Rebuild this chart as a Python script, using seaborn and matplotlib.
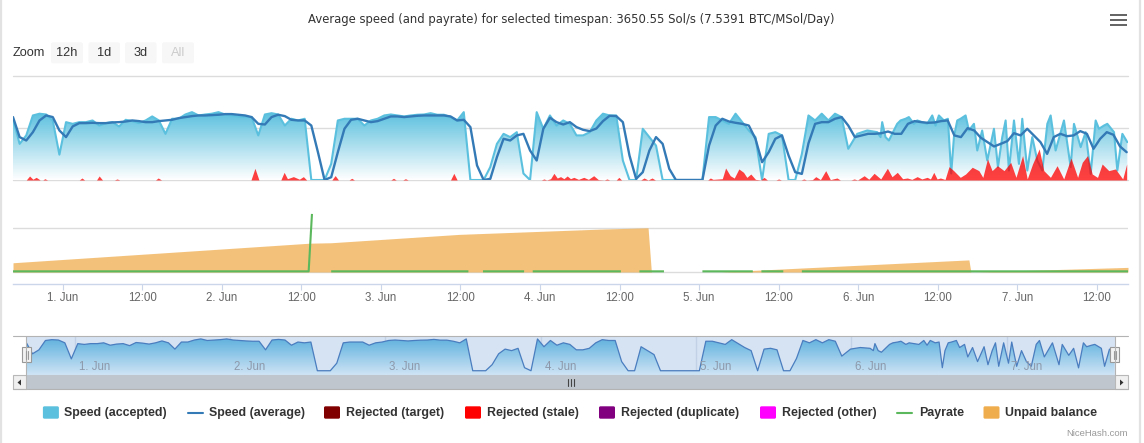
import numpy as np
import pandas as pd
import matplotlib
matplotlib.use("Agg")
import matplotlib.pyplot as plt
import matplotlib.dates as mdates
import matplotlib.transforms as mtransforms
from matplotlib.patches import Rectangle, FancyBboxPatch, Polygon
from matplotlib.colors import LinearSegmentedColormap
import seaborn as sns

sns.set_theme(style="white")
plt.rcParams['font.family'] = ['Liberation Sans', 'DejaVu Sans']

W, H, DPI = 1144, 443, 100

# ---------------- data ----------------
START = "2017-05-31 16:30"
SPAN_HOURS = 168.2

TITLE = "Average speed (and payrate) for selected timespan: 3650.55 Sol/s (7.5391 BTC/MSol/Day)"
ZOOM_BUTTONS = ["12h", "1d", "3d", "All"]
LEGEND_LABELS = ["Speed (accepted)", "Speed (average)", "Rejected (target)", "Rejected (stale)",
                 "Rejected (duplicate)", "Rejected (other)", "Payrate", "Unpaid balance"]
LEGEND_COLORS = ["#5bc0de", "#337ab7", "#800000", "#ff0000", "#800080", "#ff00ff", "#5cb85c", "#f0ad4e"]

# accepted speed, Sol/s (hours after START)
ACC_HOURS = list(range(127)) + [
    127.35, 128.86, 130.37, 130.87, 131.12, 131.62, 132.13, 132.63, 133.38, 133.89,
    134.64, 135.14, 135.90, 136.40, 137.16, 137.91, 138.67, 139.17, 139.67, 140.43,
    141.03, 141.53, 141.94, 142.44, 142.94, 143.70, 144.20, 144.96, 145.46, 146.20,
    146.97, 147.98, 148.58, 149.23, 149.74, 150.24, 151.00, 151.75, 152.25, 153.01,
    153.76, 154.52, 155.27, 156.03, 156.53, 157.28, 158.54, 159.55, 160.05, 161.06,
    161.81, 162.57, 163.32, 163.82, 164.58, 165.08, 166.09, 166.59, 167.35, 168.10]
ACC_SPEED = [
    4700, 2780, 3430, 4965, 5100, 5040, 4580, 1950, 4450, 4320,
    4450, 4450, 4580, 4190, 4375, 4450, 4120, 4630, 4530, 4375,
    4580, 4890, 4580, 3550, 4710, 4710, 5040, 5220, 4965, 5040,
    5100, 5220, 5040, 4965, 4890, 4840, 4840, 3430, 5040, 5140,
    5040, 4190, 4710, 4580, 4710, 0, 0, 0, 1240, 4580,
    4710, 4710, 4710, 4190, 4580, 4710, 4965, 5040, 4965, 4890,
    4965, 5020, 5040, 5140, 5020, 5020, 4840, 4580, 5220, 0,
    0, 0, 1000, 2780, 3550, 3300, 3680, 500, 0, 5220,
    3940, 4965, 4190, 4580, 4320, 3430, 3430, 3680, 4580, 5100,
    4965, 4965, 1500, 0, 0, 3940, 3300, 2650, 0, 0,
    0, 0, 0, 0, 0, 4840, 4840, 4580, 4320, 5100,
    4450, 3810, 3300, 0, 3550, 3680, 3430, 0, 0, 2000,
    4965, 4580, 5100, 4580, 5100, 4840, 2400,
    3550, 3810, 3680, 3300, 4450, 3300, 3040, 3550, 4320, 4580,
    4710, 4840, 4320, 4580, 4450, 4320, 4965, 4190, 4965, 4580,
    4710, 500, 3300, 4580, 4710, 4965, 3810, 4320, 2270, 3810,
    1500, 3940, 990, 3300, 4580, 730, 4580, 1240, 4710, 730,
    3300, 1500, 730, 4320, 4965, 2270, 4580, 990, 4320, 2530,
    3680, 470, 4580, 3940, 4190, 4320, 3680, 730, 3550, 2910]

# average speed, hourly from START
AVG_SPEED = [
    4840, 3300, 3040, 3680, 4580, 4965, 4840, 3810, 3300, 4120,
    4375, 4375, 4400, 4375, 4375, 4430, 4450, 4500, 4580, 4530,
    4450, 4450, 4530, 4580, 4630, 4760, 4840, 4915, 4965, 4965,
    4990, 5020, 5070, 5070, 5020, 4965, 4840, 4320, 4270, 4840,
    5020, 4915, 4630, 4580, 4580, 4190, 2140, 0, 215, 2140,
    3940, 4630, 4710, 4580, 4450, 4530, 4710, 4890, 4890, 4840,
    4890, 4940, 4965, 4965, 4965, 4965, 4890, 4580, 4630, 4070,
    1120, 0, 90, 1760, 3170, 3040, 3430, 3550, 2270, 1500,
    3940, 4790, 4450, 4270, 4450, 4070, 3860, 3760, 3960, 4530,
    4940, 4915, 4450, 1880, 90, 600, 2270, 3300, 2780, 860,
    0, 0, 0, 0, 0, 2650, 4190, 4710, 4500, 4400,
    4320, 4190, 3170, 1370, 2140, 3170, 3430, 1880, 600, 470,
    2830, 4320, 4450, 4450, 4710, 4840, 4190, 3300, 3430, 3553,
    3553, 3600, 3730, 3553, 3553, 4320, 4530, 4450, 4400, 4425,
    4530, 4580, 3430, 3300, 3990, 3810, 3250, 2910, 2580, 2780,
    2990, 3600, 3430, 3940, 3430, 2910, 2010, 3300, 3553, 3370,
    3430, 3760, 3553, 2400, 3170, 3680, 3480, 2580, 2140]
AVG_HOURS = list(range(len(AVG_SPEED)))

# rejected (stale), Sol/s
STALE_HOURS = [
    0, 2.0, 2.5, 3.0, 3.5, 4.1, 4.5, 4.8, 5.2,
    10.0, 10.4, 10.8, 12.6, 13.0, 13.5, 15.3, 15.7, 16.1,
    21.5, 21.9, 22.4, 35.9, 36.5, 37.1, 40.4, 40.9, 41.4, 42.3, 43.2, 43.8, 44.3,
    48.1, 48.6, 49.1, 50.7, 51.1, 51.5, 57.0, 57.4, 57.8, 58.8, 59.2, 59.6, 66.0, 66.5, 67.0,
    79.7, 80.1, 80.5, 81.1, 81.6, 82.1, 82.6, 83.1, 83.6, 84.1, 84.6, 85.3, 86.1, 86.8, 87.6, 88.3,
    89.2, 89.6, 90.0, 91.0, 91.4, 91.8,
    94.7, 95.2, 95.8, 96.4, 96.9, 104.8, 105.2, 105.6, 107.0, 107.5, 108.2, 108.8, 109.5, 110.2,
    110.7, 111.3, 112.0, 112.8, 113.3, 113.8,
    115.1, 115.5, 115.9, 118.9, 119.3, 119.7, 120.6, 121.1, 121.8, 122.6, 123.3, 124.3, 124.8,
    126.4, 126.9, 127.4,
    128.4, 129.1, 129.9, 130.9, 131.9, 132.6, 133.4, 134.2, 134.9, 135.6, 136.4, 137.1, 137.9,
    138.4, 138.9, 139.4, 139.9, 140.6, 141.2, 141.9, 142.9, 143.7, 144.7, 145.7, 146.3, 147.0,
    147.7, 148.5, 149.5, 150.5, 151.3, 152.3, 153.0, 153.8, 154.8, 155.5, 156.5, 157.5, 158.5,
    159.6, 160.6, 161.3, 162.1, 162.8, 163.6, 164.3, 165.3, 166.3, 167.4, 168.0]
STALE_SPEED = [
    0, 0, 310, 60, 205, 0, 0, 100, 0,
    0, 155, 0, 0, 310, 0, 0, 80, 0,
    0, 155, 0, 0, 900, 0, 0, 590, 100, 260, 60, 260, 0,
    0, 340, 0, 0, 130, 0, 0, 130, 0, 0, 100, 0, 0, 515, 0,
    0, 80, 0, 100, 515, 150, 260, 100, 310, 100, 205, 50, 205, 50, 330, 30,
    0, 80, 0, 0, 205, 0,
    0, 155, 0, 155, 0, 0, 155, 50, 100, 925, 330, 150, 850, 590,
    200, 460, 50, 0, 205, 0,
    0, 80, 0, 0, 80, 0, 30, 260, 30, 720, 30, 155, 0,
    0, 80, 0,
    330, 60, 515, 80, 900, 250, 590, 100, 155, 50, 260, 80, 205,
    80, 590, 80, 155, 40, 1030, 720, 205, 460, 980, 720, 200, 1625,
    720, 1100, 720, 1360, 205, 1880, 80, 1230, 2390, 720, 205, 1100, 80,
    1690, 205, 1360, 1880, 460, 200, 1230, 720, 850, 80, 1230]

# unpaid balance, BTC
BAL_HOURS = [0, 44.8, 48.0, 67.3, 88.6, 95.8, 96.3, 106.7, 144.2, 144.5, 145.2, 168.2]
BAL_BTC = [0.0042, 0.0131, 0.0133, 0.0171, 0.0195, 0.0201, 0.0, 0.0, 0.0055, 0.0, 0.0, 0.0021]

# payrate (NaN = no value while the rig was down)
PAY_HOURS = [0, 44.6, 45.1, 46.5, 48.0, 68.7, 69.8, 70.9, 77.1, 77.7, 78.4, 91.7, 93.1, 94.5,
             98.2, 101.1, 104.0, 111.6, 112.2, 112.9, 116.2, 117.6, 119.0, 168.2]
PAY_RATE = [0.0003, 0.0003, 0.0264, np.nan, 0.0003, 0.0003, np.nan, 0.0003, 0.0003, np.nan, 0.0003,
            0.0003, np.nan, 0.0003, 0.0003, np.nan, 0.0003, 0.0003, np.nan, 0.0003, 0.0003, np.nan,
            0.0003, 0.0003]

for a, b in [(ACC_HOURS, ACC_SPEED), (STALE_HOURS, STALE_SPEED), (BAL_HOURS, BAL_BTC), (PAY_HOURS, PAY_RATE)]:
    if len(a) != len(b):
        raise SystemExit(f"length mismatch {len(a)} {len(b)}")

# ---------------- helpers ----------------
start = pd.Timestamp(START)
def to_time(hours):
    return pd.Series(start + pd.to_timedelta(np.asarray(hours, dtype=float), unit="h"))

t_acc, t_avg = to_time(ACC_HOURS), to_time(AVG_HOURS)
t_stale, t_bal, t_pay = to_time(STALE_HOURS), to_time(BAL_HOURS), to_time(PAY_HOURS)
END = start + pd.Timedelta(hours=SPAN_HOURS)
XLIM = (mdates.date2num(start), mdates.date2num(END))

fig = plt.figure(figsize=(W / DPI, H / DPI), dpi=DPI)
fig.patch.set_facecolor("white")

def px_axes(x0, y0, x1, y1):
    ax = fig.add_axes([x0 / W, 1 - y1 / H, (x1 - x0) / W, (y1 - y0) / H])
    ax.set_facecolor("none")
    return ax

def gradient_area(ax, t, v, c_top, c_bot, vtop, vbot, zorder):
    poly = ax.fill_between(t, v, vbot, facecolor="none", edgecolor="none")
    path = poly.get_paths()[0]
    poly.remove()
    xn = mdates.date2num(t)
    cmap = LinearSegmentedColormap.from_list("g", [c_bot, c_top])
    grad = np.linspace(1, 0, 256).reshape(-1, 1)
    im = ax.imshow(grad, cmap=cmap, aspect="auto", origin="upper", vmin=0, vmax=1,
                   extent=[xn.min(), xn.max(), vbot, vtop], zorder=zorder, interpolation="bilinear")
    im.set_clip_path(path, transform=ax.transData)

GRID = "#dcdcdc"

# ---------------- top pane: speeds ----------------
ax_t = px_axes(13, 76, 1128, 180)
gradient_area(ax_t, t_acc, ACC_SPEED, "#5bc0de", "#ffffff", max(ACC_SPEED), 0, 1)
sns.lineplot(x=t_acc, y=ACC_SPEED, ax=ax_t, color="#5bc0de", linewidth=1.5, estimator=None, sort=False, zorder=2)
sns.lineplot(x=t_avg, y=AVG_SPEED, ax=ax_t, color="#337ab7", linewidth=1.7, estimator=None, sort=False, zorder=3)
ax_t.fill_between(t_stale, STALE_SPEED, 0, color="#ff0000", alpha=0.75, linewidth=0, zorder=4)
for v in (0, 4000, 8000):
    ax_t.axhline(v, color=GRID, lw=1, zorder=0, clip_on=False)
ax_t.set_xlim(XLIM)
ax_t.set_ylim(0, 8000)
ax_t.axis("off")

# ---------------- bottom pane: balance & payrate ----------------
ax_b = px_axes(13, 200, 1128, 284)
ax_b.fill_between(t_bal, BAL_BTC, 0, color="#f0ad4e", alpha=0.75, linewidth=0, zorder=2)
ax_b.plot(t_pay, PAY_RATE, color="#5cb85c", lw=1.5, zorder=3, solid_capstyle="butt")
for v in (0, 0.02):
    ax_b.axhline(v, color=GRID, lw=1, zorder=0)
ax_b.set_xlim(XLIM)
ax_b.set_ylim(-0.0054545, 0.0327273)
for s in ("top", "left", "right"):
    ax_b.spines[s].set_visible(False)
ax_b.spines["bottom"].set_color("#ccd6eb")
ax_b.spines["bottom"].set_linewidth(1)
ax_b.set_yticks([])
ax_b.xaxis.set_major_locator(mdates.HourLocator(byhour=[0, 12]))
def _fmt(x, pos):
    d = mdates.num2date(x)
    return f"{d.day}. {d.strftime('%b')}" if d.hour == 0 else d.strftime("%H:%M")
ax_b.xaxis.set_major_formatter(plt.FuncFormatter(_fmt))
ax_b.tick_params(axis="x", bottom=True, length=4.3, width=0.8, color="#ccd6eb",
                 labelcolor="#666666", labelsize=8.3, pad=1.8)
ax_b.set_xlabel("")
ax_b.set_ylabel("")

# ---------------- navigator ----------------
ax_n = px_axes(26, 336, 1115, 375)
ax_n.set_facecolor("#d6e3f3")
ax_n.xaxis.set_major_locator(mdates.DayLocator())
ax_n.grid(axis="x", color="#c3d1e6", lw=1)
ax_n.grid(axis="y", visible=False)
ax_n.set_axisbelow(True)
gradient_area(ax_n, t_acc, ACC_SPEED, "#5fb1de", "#cfe4f5", max(ACC_SPEED), -700, 1)
sns.lineplot(x=t_acc, y=ACC_SPEED, ax=ax_n, color="#4a7dbf", linewidth=0.9, estimator=None, sort=False, zorder=2)
ax_n.set_xlim(XLIM)
ax_n.set_ylim(-700, 5700)
ax_n.tick_params(axis="both", length=0, labelbottom=False, labelleft=False)
ax_n.set_xlabel("")
ax_n.set_ylabel("")
for s in ax_n.spines.values():
    s.set_visible(False)
lab_tr = mtransforms.offset_copy(mtransforms.blended_transform_factory(ax_n.transData, ax_n.transAxes),
                                 fig=fig, x=4, y=0, units="dots")
for d in mdates.DayLocator().tick_values(start.to_pydatetime(), END.to_pydatetime()):
    if XLIM[0] <= d <= XLIM[1]:
        dd = mdates.num2date(d)
        ax_n.text(d, 0.2, f"{dd.day}. {dd.strftime('%b')}", transform=lab_tr, ha="left", va="center",
                  fontsize=8.3, color="#8d99aa", zorder=5)

# ---------------- overlay: chrome, legend ----------------
ax_o = fig.add_axes([0, 0, 1, 1])
ax_o.set_xlim(0, W)
ax_o.set_ylim(H, 0)
ax_o.axis("off")
ax_o.set_facecolor("none")

ax_o.plot([1, 1], [0, H], color="#e2e2e2", lw=1.6)
ax_o.plot([1140, 1140], [0, H], color="#e2e2e2", lw=1.6)

ax_o.text(571, 19.5, TITLE, ha="center", va="center", fontsize=8.4, color="#333333",
          family=["DejaVu Sans"])

for yy in (15, 20, 25):
    ax_o.add_patch(Rectangle((1109.5, yy - 1.4), 17.2, 2.8, facecolor="#666666", edgecolor="none"))

ax_o.text(13, 52.5, "Zoom", ha="left", va="center", fontsize=9.2, color="#333333")
for (x0, x1), lab in zip([(51, 83), (88.5, 120), (125, 156.5), (162, 194)], ZOOM_BUTTONS):
    ax_o.add_patch(FancyBboxPatch((x0, 42.3), x1 - x0, 21, boxstyle="round,pad=0,rounding_size=2",
                                  facecolor="#f7f7f7", edgecolor="none"))
    ax_o.text((x0 + x1) / 2, 52.5, lab, ha="center", va="center", fontsize=9.2,
              color="#cccccc" if lab == "All" else "#333333")

# navigator outline, handles, scrollbar
ax_o.plot([13, 1128], [335.5, 335.5], color="#b3b3b3", lw=0.8)
ax_o.plot([26, 26], [335.5, 375], color="#b3b3b3", lw=0.8)
ax_o.plot([1115, 1115], [335.5, 375], color="#b3b3b3", lw=0.8)
ax_o.add_patch(Rectangle((26, 375), 1089, 14, facecolor="#bfc6ce", edgecolor="none"))
for bx in (13, 1115):
    ax_o.add_patch(Rectangle((bx, 375), 13, 14, facecolor="#f0f0f0", edgecolor="#b8b8b8", lw=0.8))
ax_o.add_patch(Polygon([[21, 379.5], [21, 385.5], [17.5, 382.5]], closed=True, facecolor="#333333", edgecolor="none"))
ax_o.add_patch(Polygon([[1120, 379.5], [1120, 385.5], [1123.5, 382.5]], closed=True, facecolor="#333333", edgecolor="none"))
ax_o.plot([13, 1128], [389, 389], color="#b3b3b3", lw=0.8)
for gx in (567.5, 570.5, 573.5):
    ax_o.plot([gx, gx], [379, 386], color="#444444", lw=0.8)
for hx in (22.3, 1110.3):
    ax_o.add_patch(Rectangle((hx, 347), 8.4, 15.3, facecolor="#f2f2f2", edgecolor="#999999", lw=0.8))
    for gx in (hx + 3.2, hx + 5.2):
        ax_o.plot([gx, gx], [350.5, 358.5], color="#999999", lw=0.8)

# legend
LEG_SYMBOL_X = [42.9, 187.5, 324, 465, 599, 760, 897, 983.5]
LEG_TEXT_X = [64.3, 208.6, 345.6, 486.8, 620.7, 782.3, 918.7, 1005]
LEG_IS_LINE = [False, True, False, False, False, False, True, False]
for sx, tx, lab, col, is_line in zip(LEG_SYMBOL_X, LEG_TEXT_X, LEGEND_LABELS, LEGEND_COLORS, LEG_IS_LINE):
    if is_line:
        ax_o.plot([sx, sx + 15], [412.5, 412.5], color=col, lw=1.5)
    else:
        ax_o.add_patch(FancyBboxPatch((sx, 406.3), 16, 12.4, boxstyle="round,pad=0,rounding_size=1.5",
                                      facecolor=col, edgecolor="none"))
    ax_o.text(tx, 412.8, lab, ha="left", va="center", fontsize=8.9, fontweight="bold", color="#333333")

ax_o.text(1128, 434, "NiceHash.com", ha="right", va="center", fontsize=6.8, color="#999999")

fig.savefig("out.png", dpi=DPI, facecolor="white")
